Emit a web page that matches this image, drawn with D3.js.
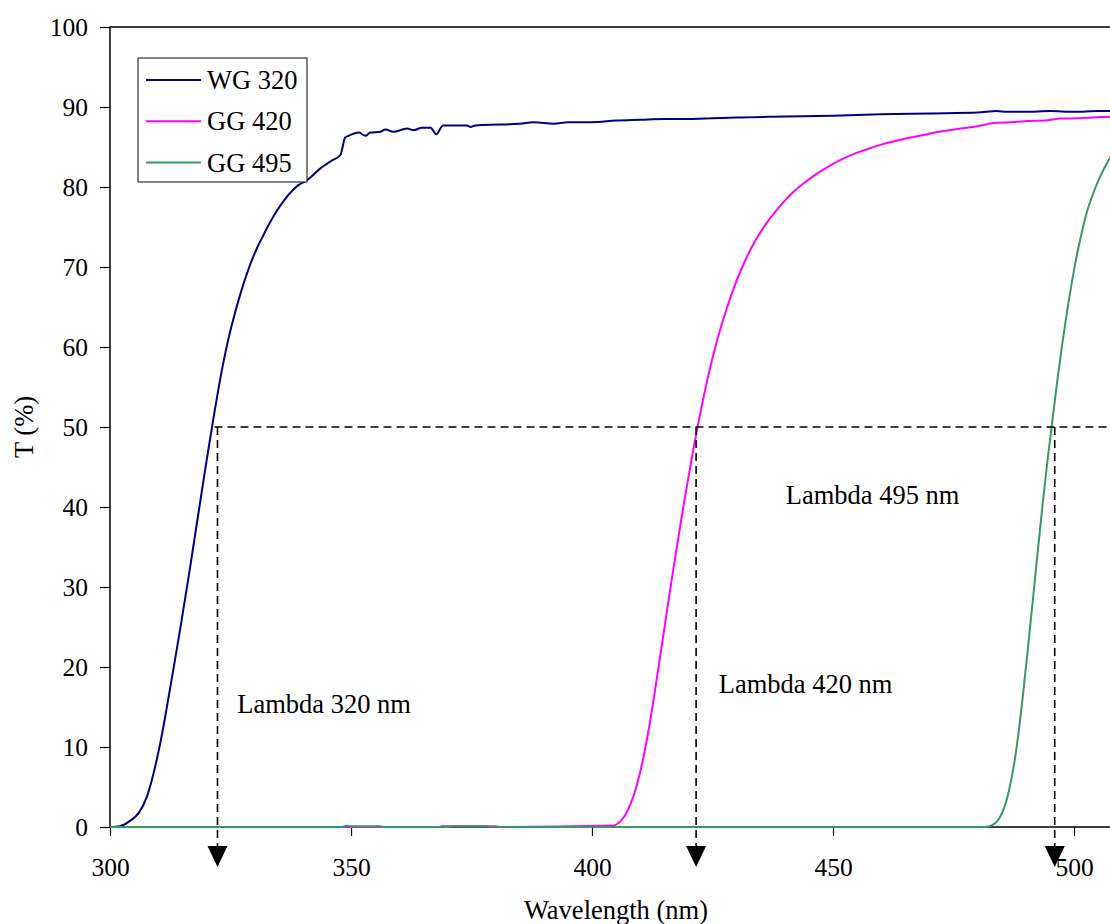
<!DOCTYPE html>
<html>
<head>
<meta charset="utf-8">
<script src="https://cdn.jsdelivr.net/npm/d3@7"></script>
<style>
  body { margin: 0; background: #fff; }
  svg { display: block; font-family: "Liberation Serif", "Times New Roman", serif; }
</style>
</head>
<body>
<svg></svg>
<script>
const width = 1110;
const height = 924;

// series data (wavelength in nm, transmission in %)
const wg320Nm = [300, 302, 304, 306, 307.6, 308.6, 309.7, 310.6, 311.6, 312.6, 313.6, 314.6, 315.6, 316.6, 317.6,
    318.6, 319.6, 320.6, 321.6, 322.6, 323.6, 324.6, 325.6, 326.6, 327.6, 328.6, 329.6, 330.6, 331.6, 332.6,
    333.6, 334.6, 335.6, 336.6, 337.6, 339, 341, 343.6, 346, 347.8, 348.8,
    349.5, 351.6, 353, 354, 356.1, 357.1, 358.8, 361.6, 363, 364.7, 366.5, 367.7, 369.1, 374.1, 374.8, 375.8,
    381, 385, 388, 392, 395, 400, 405, 410, 415, 420, 425, 430, 440, 450, 460, 470, 480, 484, 486, 490, 495,
    500, 505, 510];
const wg320T = [0, 0.1, 0.7, 1.8, 3.7, 5.7, 8.4, 11, 14.3, 17.8, 21.3, 24.9, 28.6, 32.4, 36.3,
    40.2, 44.1, 47.9, 51.6, 55.1, 58.3, 61.1, 63.5, 65.7, 67.7, 69.5, 71.1, 72.5, 73.7, 74.9,
    76, 77, 77.9, 78.7, 79.4, 80.2, 80.9, 82.3, 83.3, 84, 86.2,
    86.4, 86.8, 86.4, 86.8, 86.9, 87.2, 86.9, 87.3, 87.1, 87.4, 87.4, 86.6, 87.7, 87.7, 87.5, 87.7,
    87.8, 87.9, 88.1, 87.9, 88.1, 88.1, 88.3, 88.4, 88.5, 88.5, 88.6, 88.7, 88.8, 88.9, 89.1, 89.2, 89.3, 89.5, 89.4, 89.4, 89.5,
    89.4, 89.5, 89.5];

const gg420Nm = [300, 368, 369, 378, 379, 404.5, 406, 407, 408, 409, 410, 411, 412, 413, 414, 415, 416, 417, 418,
    419, 420, 421, 422, 423, 424, 426, 428, 430, 432, 434, 436, 438, 440, 442, 444, 447, 450, 453, 456, 460,
    464, 468, 472, 476.5, 480, 483.4, 487, 490.4, 494, 497.3, 501, 504, 507.7, 510];
const gg420T = [0, 0, 0.1, 0.1, 0, 0.2, 0.8, 1.6, 2.9, 4.6, 6.9, 9.7, 13, 16.8, 20.8, 24.8, 28.8, 32.7, 36.5,
    40.2, 43.7, 47.1, 50.3, 53.3, 56.1, 60.9, 64.9, 68.3, 71.1, 73.4, 75.3, 76.9, 78.3, 79.5, 80.5, 81.8, 82.9, 83.8, 84.5, 85.3,
    85.9, 86.4, 86.9, 87.3, 87.6, 88, 88.1, 88.25, 88.3, 88.55, 88.6, 88.7, 88.8, 88.9];

const gg495Nm = [300, 348, 349, 350, 356, 357, 370, 371, 380, 381, 481.4, 482.5, 483.5, 484.5, 485.5, 486.5,
    487.5, 488.5, 489.5, 490.5, 491.5, 492.5, 493.5, 494.5, 495.5, 496.5, 497.5, 498.5, 499.5, 500.5, 501.5,
    502.5, 503.5, 504.5, 505.5, 506.5, 507.5, 508.5, 510];
const gg495T = [0, 0, 0.15, 0.1, 0.1, 0, 0, 0.1, 0.1, 0, 0, 0.1, 0.4, 1.1, 2.4, 4.5,
    7.6, 11.8, 17, 22.7, 28.6, 34.6, 40.4, 45.8, 50.7, 55.6, 60.1, 64.2, 67.9, 71.2, 74,
    76.5, 78.4, 80, 81.4, 82.6, 83.7, 84.6, 85.6];

const seriesNames = ["WG 320", "GG 420", "GG 495"];
const seriesColors = ["#000080", "#ff00ff", "#339966"];

const xTicks = [300, 350, 400, 450, 500];
const yTicks = [0, 10, 20, 30, 40, 50, 60, 70, 80, 90, 100];

// cut-off wavelengths marked with arrows, and their labels
const cutoffNm = [322.3, 421.6, 496];
const cutoffLabels = ["Lambda 320 nm", "Lambda 420 nm", "Lambda 495 nm"];
const labelNm = [326.4, 426.3, 440.2];
const labelT = [14.3, 16.8, 40.4];
const halfLevel = 50;

const svg = d3.select("svg")
    .attr("width", width)
    .attr("height", height);

const plotLeft = 110, plotTop = 27, plotBottom = 827, plotRight = 1300;

const x = d3.scaleLinear().domain([300, 500]).range([plotLeft, 1074]);
const y = d3.scaleLinear().domain([0, 100]).range([plotBottom, plotTop]);

svg.append("defs").append("clipPath")
    .attr("id", "plot")
    .append("rect")
    .attr("x", plotLeft).attr("y", plotTop - 2)
    .attr("width", plotRight - plotLeft).attr("height", plotBottom - plotTop + 4);

// plot frame (right side falls outside the picture)
svg.append("rect")
    .attr("x", plotLeft).attr("y", plotTop)
    .attr("width", plotRight - plotLeft).attr("height", plotBottom - plotTop)
    .attr("fill", "none")
    .attr("stroke", "#000")
    .attr("stroke-width", 1.5);

// axes
const yAxis = svg.append("g")
    .attr("transform", `translate(${plotLeft},0)`)
    .call(d3.axisLeft(y).tickValues(yTicks).tickSize(10).tickSizeOuter(0).tickPadding(12));
const xAxis = svg.append("g")
    .attr("transform", `translate(0,${plotBottom})`)
    .call(d3.axisBottom(x).tickValues(xTicks).tickSize(9).tickSizeOuter(0).tickPadding(22));

[xAxis, yAxis].forEach(g => {
    g.select(".domain").remove();
    g.selectAll("line").attr("stroke", "#000").attr("stroke-width", 1.2);
    g.selectAll("text")
        .attr("fill", "#000")
        .style("font-family", "Liberation Serif")
        .style("font-size", "25.5px");
});

// series lines
const series = [
    { nm: wg320Nm, t: wg320T },
    { nm: gg420Nm, t: gg420T },
    { nm: gg495Nm, t: gg495T }
];

const line = d3.line()
    .x(d => x(d[0]))
    .y(d => y(d[1]))
    .curve(d3.curveMonotoneX);

const lines = svg.append("g").attr("clip-path", "url(#plot)");
series.forEach((s, i) => {
    lines.append("path")
        .datum(s.nm.map((v, j) => [v, s.t[j]]))
        .attr("fill", "none")
        .attr("stroke", seriesColors[i])
        .attr("stroke-width", 2)
        .attr("d", line);
});

// dashed 50% level and cut-off markers
const marks = svg.append("g");
marks.append("line")
    .attr("x1", x(cutoffNm[0]) - 3).attr("x2", plotRight)
    .attr("y1", y(halfLevel)).attr("y2", y(halfLevel))
    .attr("stroke", "#000")
    .attr("stroke-width", 1.6)
    .attr("stroke-dasharray", "8,5");

const arrowTop = plotBottom + 19, arrowTip = plotBottom + 40;
cutoffNm.forEach(v => {
    marks.append("line")
        .attr("x1", x(v)).attr("x2", x(v))
        .attr("y1", y(halfLevel)).attr("y2", arrowTop + 2)
        .attr("stroke", "#000")
        .attr("stroke-width", 1.6)
        .attr("stroke-dasharray", "8,5");
    marks.append("path")
        .attr("d", `M${x(v) - 10},${arrowTop}L${x(v) + 10},${arrowTop}L${x(v)},${arrowTip}Z`)
        .attr("fill", "#000");
});

cutoffLabels.forEach((t, i) => {
    marks.append("text")
        .attr("x", x(labelNm[i]))
        .attr("y", y(labelT[i]))
        .attr("font-size", "26.5px")
        .attr("fill", "#000")
        .text(t);
});

// axis titles
svg.append("text")
    .attr("x", 616)
    .attr("y", 919)
    .attr("text-anchor", "middle")
    .attr("font-size", "26.5px")
    .attr("fill", "#000")
    .text("Wavelength (nm)");

svg.append("text")
    .attr("transform", `translate(33,${y(halfLevel)}) rotate(-90)`)
    .attr("text-anchor", "middle")
    .attr("font-size", "26.5px")
    .attr("fill", "#000")
    .text("T (%)");

// legend
const legend = svg.append("g");
legend.append("rect")
    .attr("x", 138).attr("y", 58)
    .attr("width", 169).attr("height", 124)
    .attr("fill", "#fff")
    .attr("stroke", "#333")
    .attr("stroke-width", 1.2);

seriesNames.forEach((name, i) => {
    const ly = 80 + i * 41.3;
    legend.append("line")
        .attr("x1", 146).attr("x2", 201)
        .attr("y1", ly).attr("y2", ly)
        .attr("stroke", seriesColors[i])
        .attr("stroke-width", 2);
    legend.append("text")
        .attr("x", 207)
        .attr("y", ly + 9)
        .attr("font-size", "26.5px")
        .attr("fill", "#000")
        .text(name);
});
</script>
</body>
</html>
